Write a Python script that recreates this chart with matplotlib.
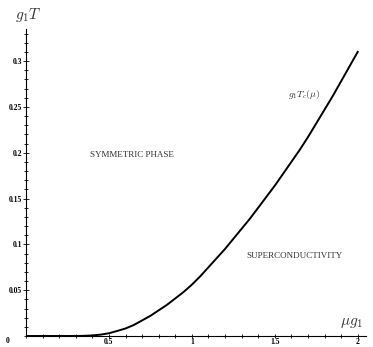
import matplotlib

matplotlib.use("Agg")
import matplotlib.pyplot as plt
from matplotlib.ticker import MultipleLocator, FixedLocator

# critical temperature curve
mu_g1 = [0.0, 0.1, 0.2, 0.3, 0.35, 0.4, 0.45, 0.5, 0.55, 0.6, 0.65, 0.7, 0.75, 0.8,
         0.85, 0.9, 0.95, 1.0, 1.05, 1.1, 1.15, 1.2, 1.25, 1.3, 1.35, 1.4, 1.45,
         1.5, 1.55, 1.6, 1.65, 1.7, 1.75, 1.8, 1.85, 1.9, 1.95, 2.0]
g1_tc = [0.0, 0.0, 0.0, 0.0, 0.0002, 0.0006, 0.0015, 0.003, 0.0055, 0.0082, 0.012,
         0.017, 0.022, 0.028, 0.034, 0.041, 0.048, 0.056, 0.065, 0.075, 0.085,
         0.095, 0.106, 0.117, 0.128, 0.140, 0.152, 0.164, 0.177, 0.190, 0.203,
         0.217, 0.232, 0.247, 0.262, 0.278, 0.294, 0.310]

x_ticks = [0.5, 1, 1.5, 2]
x_tick_labels = ["0.5", "1", "1.5", "2"]
y_ticks = [0.05, 0.1, 0.15, 0.2, 0.25, 0.3]
y_tick_labels = ["0.05", "0.1", "0.15", "0.2", "0.25", "0.3"]

plt.rcParams["mathtext.fontset"] = "cm"

fig = plt.figure(figsize=(3.73, 3.47), dpi=100)
ax = fig.add_axes([26 / 373, 11 / 347, 340 / 373, 307 / 347])
ax.plot(mu_g1, g1_tc, color="black", linewidth=1.4, solid_joinstyle="round")
ax.set_xlim(0, 2.05)
ax.set_ylim(0, 0.335)

for side in ("top", "right"):
    ax.spines[side].set_visible(False)
ax.spines["left"].set_linewidth(0.8)
ax.spines["bottom"].set_linewidth(0.8)

ax.xaxis.set_major_locator(FixedLocator(x_ticks))
ax.yaxis.set_major_locator(FixedLocator(y_ticks))
ax.xaxis.set_minor_locator(MultipleLocator(0.1))
ax.yaxis.set_minor_locator(MultipleLocator(0.01))
tick_font = {"family": "Liberation Serif", "weight": "bold", "size": 5.5}
ax.set_xticklabels(x_tick_labels, fontdict=tick_font)
ax.set_yticklabels(y_tick_labels, fontdict=tick_font)
ax.tick_params(which="major", direction="inout", length=4, width=0.6, pad=1)
ax.tick_params(which="minor", direction="inout", length=3, width=0.6)
ax.tick_params(axis="x", which="major", length=3, pad=0)
ax.tick_params(axis="x", which="minor", length=2.5)

fig.text(8 / 373, 1 - 341 / 347, "0", ha="center", va="center",
         fontfamily="Liberation Serif", fontweight="bold", fontsize=5.5)

label_font = {"family": "Liberation Serif", "size": 6.5, "color": "#333333"}
ax.text(0.64, 0.198, "SYMMETRIC PHASE", ha="center", va="center", **label_font)
ax.text(1.62, 0.087, "SUPERCONDUCTIVITY", ha="center", va="center", **label_font)
ax.text(1.68, 0.263, r"$g_1T_c(\mu)$", ha="center", va="center", fontsize=7, color="#333333")

fig.text(28 / 373, 1 - 15 / 347, r"$g_1T$", ha="center", va="center", fontsize=11, color="#333333")
fig.text(352 / 373, 1 - 322 / 347, r"$\mu g_1$", ha="center", va="center", fontsize=11, color="#333333")

fig.savefig("out.png", dpi=100)
